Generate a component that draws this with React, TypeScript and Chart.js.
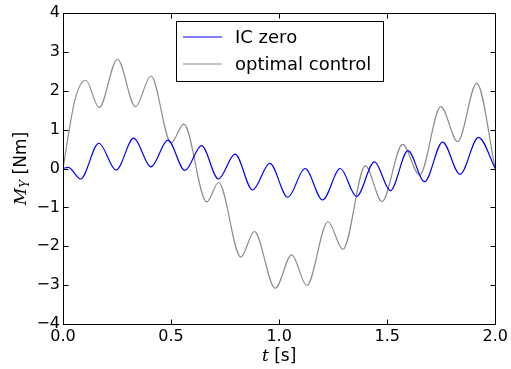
import React, { useEffect, useRef } from "react";
import { Chart, registerables } from "chart.js";

Chart.register(...registerables);

// ---- data ----
const icZeroT = [0, 0.025, 0.081, 0.166, 0.246, 0.327, 0.407, 0.485, 0.564, 0.641, 0.719, 0.796, 0.877, 0.957, 1.04, 1.12, 1.201, 1.283, 1.358, 1.441, 1.515, 1.596, 1.673, 1.756, 1.837, 1.922, 2.0];
const icZeroY = [0, 0.03, -0.27, 0.65, -0.04, 0.78, 0.04, 0.73, -0.05, 0.59, -0.27, 0.37, -0.55, 0.13, -0.74, 0.0, -0.81, 0.0, -0.72, 0.17, -0.57, 0.46, -0.34, 0.68, -0.15, 0.8, 0.0];

const optimalT = [0, 0.055, 0.105, 0.167, 0.252, 0.335, 0.407, 0.5, 0.559, 0.665, 0.72, 0.823, 0.885, 0.982, 1.058, 1.128, 1.226, 1.295, 1.399, 1.476, 1.571, 1.65, 1.748, 1.826, 1.914, 2.0];
const optimalY = [0, 1.76, 2.27, 1.57, 2.81, 1.59, 2.38, 0.66, 1.14, -0.86, -0.36, -2.28, -1.62, -3.08, -2.22, -3.01, -1.37, -2.08, 0.07, -0.85, 0.62, -0.17, 1.59, 0.69, 2.19, 0.0];

const xTicks = [0, 0.5, 1.0, 1.5, 2.0];
const yTicks = [-4, -3, -2, -1, 0, 1, 2, 3, 4];
const seriesLabels = ["IC zero", "optimal control"];
const seriesColors = ["#0000ff", "#8c8c8c"];
const xLabelItalic = "t";
const xLabelRest = " [s]";
const yLabelMain = "M";
const yLabelSub = "Y";
const yLabelRest = " [Nm]";

const SANS = '"DejaVu Sans", sans-serif';
const SERIF = '"DejaVu Serif", "Liberation Serif", serif';

const toPoints = (ts: number[], ys: number[]) => ts.map((t, i) => ({ x: t, y: ys[i] }));

const fmtY = (v: number) => (v < 0 ? "\u2212" + Math.abs(v) : String(v));

const framePlugin = {
  id: "mplFrame",
  afterDraw(chart: any) {
    const ctx = chart.ctx as CanvasRenderingContext2D;
    const { left, right, top, bottom } = chart.chartArea;
    const xs = chart.scales.x;
    const ys = chart.scales.y;
    ctx.save();
    ctx.strokeStyle = "#000";
    ctx.lineWidth = 1;
    const L = Math.round(left) + 0.5;
    const R = Math.round(right) + 0.5;
    const T = Math.round(top) + 0.5;
    const B = Math.round(bottom) + 0.5;
    ctx.strokeRect(L, T, R - L, B - T);
    const tl = 5;
    ctx.beginPath();
    xTicks.forEach((v) => {
      const px = Math.round(xs.getPixelForValue(v)) + 0.5;
      ctx.moveTo(px, B);
      ctx.lineTo(px, B - tl);
      ctx.moveTo(px, T);
      ctx.lineTo(px, T + tl);
    });
    yTicks.forEach((v) => {
      const py = Math.round(ys.getPixelForValue(v)) + 0.5;
      ctx.moveTo(L, py);
      ctx.lineTo(L + tl, py);
      ctx.moveTo(R, py);
      ctx.lineTo(R - tl, py);
    });
    ctx.stroke();

    // legend
    const lx0 = 176.5, ly0 = 21.5, lx1 = 383.5, ly1 = 81.5;
    ctx.fillStyle = "#fff";
    ctx.fillRect(lx0, ly0, lx1 - lx0, ly1 - ly0);
    ctx.strokeStyle = "#000";
    ctx.strokeRect(lx0, ly0, lx1 - lx0, ly1 - ly0);
    const rowsY = [37, 64];
    seriesLabels.forEach((lab, i) => {
      ctx.strokeStyle = seriesColors[i];
      ctx.lineWidth = 1.2;
      ctx.beginPath();
      ctx.moveTo(183, rowsY[i]);
      ctx.lineTo(222, rowsY[i]);
      ctx.stroke();
      ctx.fillStyle = "#000";
      ctx.font = `18px ${SANS}`;
      ctx.textBaseline = "middle";
      ctx.textAlign = "left";
      ctx.fillText(lab, 235, rowsY[i] + 1);
    });

    // x axis label
    ctx.fillStyle = "#000";
    ctx.textBaseline = "alphabetic";
    ctx.textAlign = "left";
    const fI = `italic 17px ${SERIF}`;
    const fS = `17px ${SANS}`;
    ctx.font = fI;
    const w1 = ctx.measureText(xLabelItalic).width;
    ctx.font = fS;
    const w2 = ctx.measureText(xLabelRest).width;
    const cx = (left + right) / 2;
    let sx = cx - (w1 + w2) / 2;
    const by = 361;
    ctx.font = fI;
    ctx.fillText(xLabelItalic, sx, by);
    ctx.font = fS;
    ctx.fillText(xLabelRest, sx + w1, by);

    // y axis label (rotated)
    ctx.save();
    ctx.translate(26, (top + bottom) / 2);
    ctx.rotate(-Math.PI / 2);
    const fSub = `italic 12px ${SERIF}`;
    ctx.font = fI;
    const m1 = ctx.measureText(yLabelMain).width;
    ctx.font = fSub;
    const m2 = ctx.measureText(yLabelSub).width;
    ctx.font = fS;
    const m3 = ctx.measureText(yLabelRest).width;
    let s = -(m1 + m2 + m3) / 2;
    ctx.font = fI;
    ctx.fillText(yLabelMain, s, 0);
    ctx.font = fSub;
    ctx.fillText(yLabelSub, s + m1, 3);
    ctx.font = fS;
    ctx.fillText(yLabelRest, s + m1 + m2, 0);
    ctx.restore();

    ctx.restore();
  },
};

export default function App() {
  const ref = useRef<HTMLCanvasElement | null>(null);
  useEffect(() => {
    document.body.style.margin = "0";
    const canvas = ref.current!;
    const chart = new Chart(canvas, {
      type: "line",
      data: {
        datasets: [
          {
            label: seriesLabels[0],
            data: toPoints(icZeroT, icZeroY),
            borderColor: seriesColors[0],
            borderWidth: 1.2,
            pointRadius: 0,
            cubicInterpolationMode: "monotone",
            fill: false,
          },
          {
            label: seriesLabels[1],
            data: toPoints(optimalT, optimalY),
            borderColor: seriesColors[1],
            borderWidth: 1.2,
            pointRadius: 0,
            cubicInterpolationMode: "monotone",
            fill: false,
          },
        ],
      },
      options: {
        animation: false,
        responsive: false,
        devicePixelRatio: 1,
        layout: { padding: { left: 0, right: 14, top: 13, bottom: 0 } },
        plugins: { legend: { display: false }, tooltip: { enabled: false } },
        scales: {
          x: {
            type: "linear",
            min: 0,
            max: 2,
            afterFit: (s: any) => {
              s.height = 45;
            },
            afterBuildTicks: (s: any) => {
              s.ticks = xTicks.map((v) => ({ value: v }));
            },
            grid: { display: false, drawTicks: false },
            border: { display: false },
            ticks: {
              padding: 3,
              color: "#000",
              font: { family: SANS, size: 16 },
              maxRotation: 0,
              autoSkip: false,
              callback: (v: any) => Number(v).toFixed(1),
            },
          },
          y: {
            type: "linear",
            min: -4,
            max: 4,
            afterFit: (s: any) => {
              s.width = 63;
            },
            afterBuildTicks: (s: any) => {
              s.ticks = yTicks.map((v) => ({ value: v }));
            },
            grid: { display: false, drawTicks: false },
            border: { display: false },
            ticks: {
              padding: 3,
              color: "#000",
              font: { family: SANS, size: 16 },
              autoSkip: false,
              callback: (v: any) => fmtY(Number(v)),
            },
          },
        },
      },
      plugins: [framePlugin],
    });
    return () => chart.destroy();
  }, []);
  return (
    <div style={{ width: 511, height: 369 }}>
      <canvas ref={ref} width={511} height={369} style={{ display: "block" }} />
    </div>
  );
}
